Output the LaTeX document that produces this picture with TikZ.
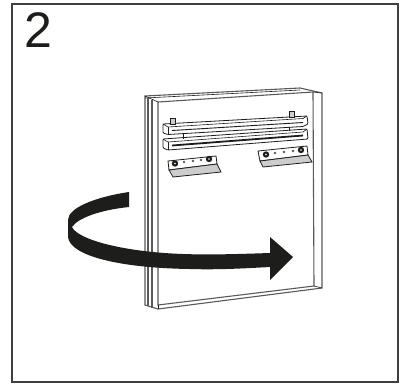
\documentclass[tikz,border=0pt]{standalone}
\usepackage{fontspec}
\setmainfont{Liberation Sans}
\definecolor{arrowblack}{RGB}{29,29,27}
\definecolor{lipgrey}{RGB}{205,205,205}
\definecolor{edgegrey}{RGB}{90,90,90}
\tikzset{
    panelline/.style={line width=1.1pt, draw=edgegrey},
    thinline/.style={line width=0.6pt, draw=arrowblack},
    railline/.style={line width=0.8pt, draw=arrowblack},
    hole/.style={fill=edgegrey, draw=none},
    bolt/.style={fill=arrowblack, draw=none},
}
\begin{document}
\begin{tikzpicture}[x=1pt, y=-1pt]

    \useasboundingbox (0, 0) rectangle (406, 383);
    \fill[white] (0, 0) rectangle (406, 383);

    % outer frame and number
    \draw[line width=1.2pt, draw=edgegrey!70!black] (12, 4) rectangle (398, 382);
    \node[text=arrowblack, inner sep=0pt] (number) at (38, 30.5) {\fontsize{50}{50}\selectfont 2};

    % panel
    \coordinate (A1) at (145, 96);
    \coordinate (A2) at (300, 88);
    \coordinate (A3) at (322, 93);
    \coordinate (A4) at (322, 288);
    \coordinate (A5) at (158, 309);
    \coordinate (A6) at (145, 305);
    \coordinate (B1) at (158, 102);
    \coordinate (B2) at (313, 92);
    \coordinate (B3) at (314, 286);
    \coordinate (B4) at (158, 305);

    \draw[panelline] (A1) -- (A2) -- (A3) -- (A4) -- (A5) -- (A6) -- cycle;
    \draw[panelline] (B1) -- (B2) -- (B3) -- (B4) -- cycle;
    \draw[thinline] (A1) -- (B1);
    \draw[thinline] (145, 98) -- (300, 90);
    \draw[thinline] (B2) -- (A3);
    \draw[thinline] (B3) -- (A4);
    \draw[thinline] (B4) -- (A5);
    \draw[panelline] (148, 98) -- (148, 306);
    \draw[panelline] (152, 100) -- (152, 308);

    % rails
    \draw[railline, fill=white, rounded corners=1pt] (163, 124) -- (307, 116) -- (308, 124) -- (303, 126.5) -- (168, 134.5) -- (163, 133) -- cycle;
    \draw[thinline] (163, 124) -- (168, 127) -- (303, 118.5) -- (307, 116);
    \draw[thinline] (168, 127) -- (168, 134.5);
    \draw[line width=0.9pt, draw=arrowblack] (172, 130.5) -- (303, 122.5);
    \draw[railline, fill=white, rounded corners=1pt] (163, 139) -- (307, 129) -- (308, 139) -- (168, 150) -- (163, 148) -- cycle;
    \draw[thinline] (163, 139) -- (168, 142) -- (303, 132) -- (307, 129);
    \draw[thinline] (168, 142) -- (168, 150);
    \draw[line width=1.8pt, draw=arrowblack] (172, 145.5) -- (303, 135.5);
    \draw[thinline] (183, 132.5) -- (183, 139);
    \draw[thinline] (289, 127) -- (289, 131);
    \draw[thinline, fill=lipgrey] (170, 118) rectangle (175, 124);
    \draw[thinline, fill=lipgrey] (289, 111) rectangle (294, 117);

    % left bracket
    \draw[railline, fill=white] (168, 161) -- (216, 156) -- (217, 164) -- (169, 170) -- cycle;
    \draw[railline, fill=lipgrey] (169, 170) -- (217, 164) -- (221, 172) -- (173, 177) -- cycle;
    \foreach \px/\py in {184/162, 193/161, 201/160}
        \fill[hole] (\px, \py) circle (1.4);
    \foreach \px/\py in {175/163.5, 209/159}
        \filldraw[bolt] (\px, \py) circle (3.2);
    \foreach \px/\py in {175/163.5, 209/159}
        \fill[white] (\px, \py) circle (0.9);

    % right bracket
    \draw[railline, fill=white] (258, 151) -- (307, 146) -- (308, 155) -- (260, 161) -- cycle;
    \draw[railline, fill=lipgrey] (260, 161) -- (308, 155) -- (312, 162) -- (263, 167) -- cycle;
    \foreach \px/\py in {275/153, 284/152, 293/151}
        \fill[hole] (\px, \py) circle (1.4);
    \foreach \px/\py in {266/154.5, 301/150}
        \filldraw[bolt] (\px, \py) circle (3.2);
    \foreach \px/\py in {266/154.5, 301/150}
        \fill[white] (\px, \py) circle (0.9);

    % turning arrow
    \fill[arrowblack] (129, 192) .. controls (95, 197) and (68, 208) .. (68, 220)
        -- (68, 237) .. controls (70, 256) and (120, 268) .. (190, 269)
        .. controls (220, 270) and (250, 268) .. (270, 267)
        -- (270, 280) -- (293, 257) -- (270, 237) -- (270, 253)
        .. controls (240, 254) and (210, 255) .. (183, 254)
        .. controls (125, 252) and (78, 240) .. (72, 227)
        .. controls (78, 218) and (100, 210) .. (129, 207) -- cycle;

\end{tikzpicture}
\end{document}
